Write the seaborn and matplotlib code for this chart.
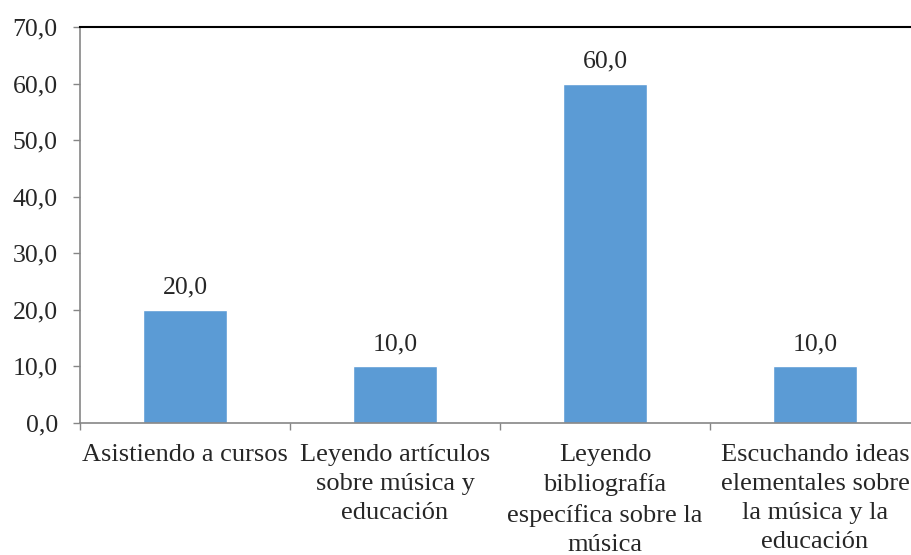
import matplotlib
matplotlib.use("Agg")
import matplotlib.pyplot as plt
import seaborn as sns
import pandas as pd

# data
categorias = [
    "Asistiendo a cursos",
    "Leyendo artículos\nsobre música y\neducación",
    "Leyendo\nbibliografía\nespecífica sobre la\nmúsica",
    "Escuchando ideas\nelementales sobre\nla música y la\neducación",
]
porcentajes = [20.0, 10.0, 60.0, 10.0]
yticks = [0, 10, 20, 30, 40, 50, 60, 70]

df = pd.DataFrame({"cat": categorias, "val": porcentajes})

sns.set_theme(style="white")
plt.rcParams['font.family'] = 'serif'
plt.rcParams['font.serif'] = ['Liberation Serif', 'DejaVu Serif']

fig = plt.figure(figsize=(9.12, 5.55), dpi=100)
ax = fig.add_axes([80 / 912, 132 / 555, 840 / 912, 396 / 555])

sns.barplot(data=df, x="cat", y="val", color="#5B9BD5", width=0.4,
            saturation=1, ax=ax)

ax.set_xlim(-0.5, 3.5)
ax.set_ylim(0, 70)
ax.set_yticks(yticks)
ax.set_yticklabels([f"{v:.1f}".replace(".", ",") for v in yticks], fontsize=18.5)
ax.set_xticks(range(len(categorias)))
ax.set_xticklabels(categorias, fontsize=19, linespacing=1.42)
ax.set_xticks([-0.5, 0.5, 1.5, 2.5, 3.5], minor=True)
ax.tick_params(axis="x", which="major", length=0, pad=15)
ax.tick_params(axis="x", which="minor", length=5, width=1, color="#868686",
               direction="out", bottom=True)
ax.tick_params(axis="y", length=5, width=1, color="#868686", direction="out",
               left=True, pad=11)
ax.set_xlabel("")
ax.set_ylabel("")

for s in ["left", "bottom"]:
    ax.spines[s].set_color("#868686")
    ax.spines[s].set_linewidth(1.2)
ax.spines["top"].set_color("black")
ax.spines["top"].set_linewidth(1.5)
ax.spines["right"].set_visible(False)

ax.bar_label(ax.containers[0],
             labels=[f"{v:.1f}".replace(".", ",") for v in porcentajes],
             padding=8, fontsize=18.5)

fig.savefig("out.png", dpi=100)
